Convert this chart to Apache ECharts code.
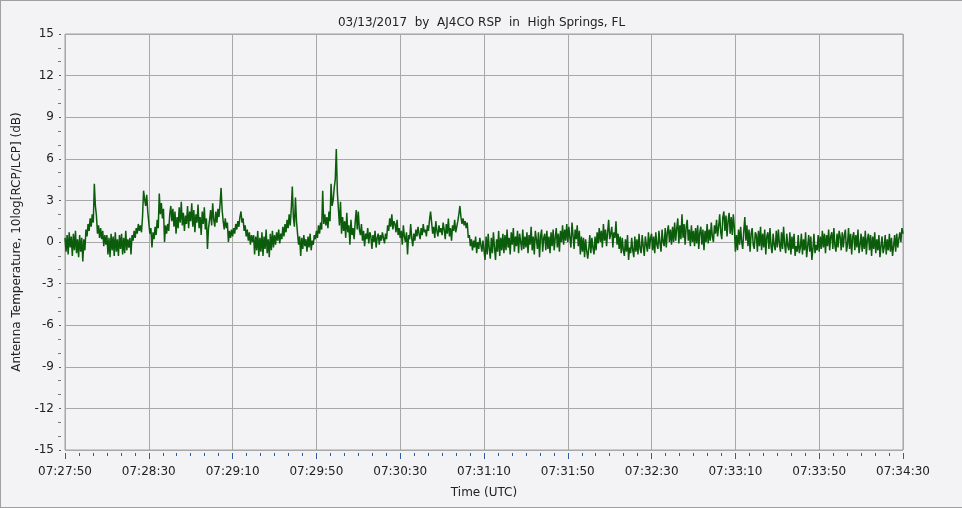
<!DOCTYPE html>
<html>
<head>
<meta charset="utf-8">
<script src="https://cdn.jsdelivr.net/npm/echarts@6/dist/echarts.min.js"></script>
<style>
html,body{margin:0;padding:0;background:#f3f3f5;}
#chart{width:962px;height:508px;box-sizing:border-box;border:1px solid #a0a0a0;border-right:none;}
</style>
</head>
<body>
<div id="chart"></div>
<script>
const titleText = '03/13/2017  by  AJ4CO RSP  in  High Springs, FL';
const yName = 'Antenna Temperature, 10log[RCP/LCP] (dB)';
const xName = 'Time (UTC)';
const timeLabels = ['07:27:50','07:28:30','07:29:10','07:29:50','07:30:30','07:31:10','07:31:50','07:32:30','07:33:10','07:33:50','07:34:30'];
const sampleStep = 0.5; // seconds between samples
const values = [
0.3,-0.7,0.5,-0.9,0.7,-0.4,0.4,-1.0,0.6,-0.6,0.8,-0.8,0.2,-1.1,0.5,-0.7,0.3,-1.4,0.2,-0.6,
0.9,0.4,1.3,0.8,1.7,1.1,2.0,1.4,4.2,2.6,1.9,0.6,1.2,0.3,1.0,0.2,0.8,-0.3,0.5,-0.2,
0.5,-0.9,0.3,-1.1,0.6,-0.6,0.4,-1.0,0.7,-0.7,0.2,-1.0,0.5,-0.5,0.6,-0.9,0.3,-0.8,0.8,-0.6,
0.2,-0.4,0.3,-0.9,0.5,0.1,0.8,0.3,1.0,0.6,1.3,0.8,1.2,0.7,1.8,3.7,3.1,2.6,3.4,2.2,
1.4,0.6,1.0,-0.4,0.7,0.2,1.1,0.5,1.6,1.0,3.5,2.0,2.8,1.7,2.4,0.0,1.2,0.6,1.3,0.8,
2.0,2.6,1.5,2.4,1.1,2.2,0.6,1.8,1.0,2.5,1.4,2.9,1.2,2.1,0.8,1.9,1.3,2.6,1.0,2.2,
1.5,2.8,1.1,2.3,0.7,2.0,1.4,2.7,1.0,1.8,0.5,2.2,1.3,2.5,0.9,1.7,-0.5,1.0,1.6,2.3,
1.2,2.8,1.6,1.1,2.2,1.4,2.4,1.8,2.7,3.9,2.3,1.5,0.9,1.7,1.0,1.4,0.0,0.8,0.3,0.9,
0.4,1.0,0.6,1.3,0.9,1.5,1.1,1.8,2.2,1.4,1.7,0.8,1.2,0.4,0.9,0.1,0.7,-0.2,0.5,0.0,
0.5,-0.9,0.4,-0.6,0.8,-1.0,0.3,-0.7,0.7,-1.0,0.4,-0.5,0.9,-0.8,0.2,-1.1,0.6,-0.6,0.8,-0.4,
0.5,-0.2,0.7,0.1,0.9,-0.1,0.6,0.2,1.1,0.4,1.3,0.7,1.6,1.0,2.0,1.2,2.4,4.0,1.8,1.1,
3.2,1.5,0.6,-0.2,0.4,-1.0,0.3,-0.5,0.5,-0.3,0.2,-0.7,0.4,-0.4,0.6,-0.6,0.1,-0.2,0.5,0.2,
0.8,0.3,1.2,0.6,1.4,0.9,3.7,1.3,2.0,1.2,1.8,1.0,2.2,1.5,4.2,2.6,3.0,3.9,4.5,6.7,
3.6,2.4,1.2,2.9,0.6,1.8,0.8,1.5,0.3,2.1,0.7,1.2,-0.2,1.6,0.5,1.0,0.2,1.4,2.3,0.9,
2.2,0.9,0.5,1.3,0.1,0.8,-0.3,0.6,0.2,1.0,-0.1,0.7,0.4,-0.5,0.5,0.0,0.8,-0.4,0.3,0.6,
-0.2,0.5,0.1,0.7,0.3,-0.1,0.6,0.2,1.2,0.8,1.7,1.1,2.0,0.9,1.5,1.3,0.7,1.6,0.5,1.0,
0.3,0.8,-0.2,1.2,0.4,0.0,0.7,-0.9,0.5,0.2,1.3,0.3,-0.3,0.6,0.1,0.9,0.4,1.1,0.6,0.2,
1.0,0.5,1.3,0.7,0.9,0.4,1.2,0.8,1.6,2.2,1.4,0.6,1.1,0.3,1.5,0.8,0.4,1.2,0.7,1.0,
0.5,1.4,0.9,0.2,1.3,0.6,1.7,0.4,1.0,0.1,1.2,0.8,1.6,0.7,1.1,1.5,2.0,2.6,1.8,1.3,
1.7,1.2,1.5,1.0,1.4,0.3,0.5,-0.3,0.2,-0.6,0.1,-0.4,0.4,-0.8,0.0,-0.5,0.3,-0.2,-0.7,0.1,
-0.6,-1.3,0.4,-0.9,0.6,-0.5,-1.2,0.3,-0.8,0.7,-0.4,-1.3,0.2,-0.7,0.8,-1.0,0.3,-0.6,0.6,-0.8,
0.5,-0.6,0.9,-0.4,0.3,-0.9,0.7,-0.2,1.0,-0.7,0.4,-0.3,0.8,-0.8,0.6,0.0,-0.6,0.9,-0.5,0.4,
-0.4,0.7,-0.8,0.5,-0.2,1.1,-0.6,0.4,-0.9,0.8,0.2,-0.5,0.7,-1.1,0.4,0.9,-0.7,0.3,0.6,-0.6,
0.8,-0.5,0.4,-0.8,0.7,-0.3,0.9,-0.6,0.3,1.0,-0.4,0.6,-0.7,0.8,0.0,1.2,-0.2,0.9,0.1,1.3,
0.0,1.1,0.3,-0.4,1.4,0.5,-0.5,0.9,0.2,1.2,-0.3,0.8,-0.9,0.4,-0.7,0.3,-1.1,0.2,-0.6,-1.2,
-0.5,0.5,-0.8,0.3,-0.4,-0.9,0.4,-0.6,0.7,-0.1,1.0,0.0,0.8,-0.4,1.3,0.1,0.9,-0.3,0.7,1.6,
0.2,0.6,1.1,-0.4,0.7,0.3,1.5,-0.2,0.6,-0.5,0.4,-0.8,0.3,-0.6,-1.0,0.2,-0.7,0.5,-1.3,-0.4,
-0.8,0.3,-0.6,-1.1,0.4,-0.7,0.2,-0.9,0.6,-0.5,-0.8,0.5,-0.3,-1.0,0.4,-0.2,-0.7,0.7,-0.5,0.3,
0.6,-0.6,0.4,-0.8,0.7,-0.2,-0.5,0.8,-0.1,-0.7,0.9,0.0,-0.3,1.0,-0.4,0.7,1.2,0.0,0.9,-0.2,
1.1,0.0,1.4,0.1,1.0,1.7,-0.1,1.2,0.2,2.0,0.3,1.3,-0.2,1.1,1.6,0.1,0.9,-0.3,1.2,0.0,
0.8,-0.3,1.0,-0.1,1.2,-0.5,0.7,1.1,-0.2,0.9,-0.6,0.8,0.0,1.3,-0.1,0.9,0.1,1.4,0.4,0.0,
1.2,0.6,1.6,0.4,1.1,2.0,0.7,0.2,1.8,2.2,0.8,1.9,0.4,1.5,2.1,0.6,1.8,0.5,2.0,1.0,
-0.7,0.5,-0.6,0.9,-0.2,1.1,0.0,-0.5,0.8,1.8,0.1,1.2,-0.3,0.9,-0.7,0.6,1.0,-0.2,-0.5,0.7,
0.5,-0.7,0.8,-0.3,1.1,-0.6,0.6,-0.4,0.9,-0.9,0.4,0.7,-0.5,1.0,-0.3,-0.8,0.6,-0.2,-0.6,0.8,
-0.4,0.9,-0.1,-0.7,0.7,-0.5,1.1,-0.2,-0.8,0.6,-0.3,-0.6,0.7,-0.9,0.4,-0.5,0.6,-1.0,-0.3,-0.7,
0.5,-0.8,-0.4,0.6,-0.9,0.2,-0.6,0.7,-1.1,-0.3,0.5,-0.7,0.4,-1.3,-0.5,0.6,-0.8,-0.2,-0.6,0.5,
-0.7,0.4,-0.5,0.8,-0.4,0.6,-0.8,0.5,-0.3,0.9,-0.6,0.4,0.7,-0.5,1.0,-0.3,-0.7,0.6,-0.4,0.8,
0.4,-0.6,0.7,-0.4,0.5,0.9,-0.7,-0.2,1.0,-0.5,0.6,-0.9,0.4,0.7,-0.6,0.5,-0.4,0.9,-0.8,-0.2,
0.6,-0.7,0.4,-0.5,0.8,-0.9,0.2,0.6,-0.6,0.5,-1.0,0.4,-0.5,0.7,-0.8,0.2,-0.6,0.5,-1.1,-0.3,
0.4,-0.8,-0.4,0.5,-0.9,0.2,-0.6,0.6,-0.7,0.3,-1.0,-0.3,0.5,-0.7,0.6,-0.4,0.2,0.7,0.0,1.0,
0.6
];
const xMin = 0, xMax = 400, xStep = 40;
const yMin = -15, yMax = 15, yStep = 3;

const seriesData = values.map((v, i) => [i * sampleStep, v]);
const font = 'DejaVu Sans';
const chart = echarts.init(document.getElementById('chart'), null, {renderer: 'canvas'});
chart.setOption({
  backgroundColor: '#f3f3f5',
  animation: false,
  title: {
    text: titleText, left: 'center', top: 11,
    textStyle: {fontFamily: font, fontSize: 12, fontWeight: 'normal', color: '#222'}
  },
  grid: {left: 64, right: 59, top: 33, bottom: 57, show: true, borderColor: '#a0a0a0', borderWidth: 1, backgroundColor: 'transparent'},
  xAxis: {
    type: 'value', min: xMin, max: xMax, interval: xStep, offset: 3, position: 'bottom',
    axisLine: {show: false, onZero: false},
    axisTick: {show: true, length: 6, lineStyle: {color: '#2a5caa', width: 1}},
    minorTick: {show: true, splitNumber: 6, length: 3, lineStyle: {color: '#2a5caa', width: 1}},
    splitLine: {show: true, lineStyle: {color: '#a8a8a8', width: 1}},
    axisLabel: {margin: 13, fontFamily: font, fontSize: 12, color: '#222', formatter: v => timeLabels[Math.round(v / xStep)]},
    name: xName, nameLocation: 'middle', nameGap: 34,
    nameTextStyle: {fontFamily: font, fontSize: 12, color: '#222'}
  },
  yAxis: {
    type: 'value', min: yMin, max: yMax, interval: yStep, offset: 4, position: 'left',
    axisLine: {show: false, onZero: false},
    axisTick: {show: true, length: 2, lineStyle: {color: '#555', width: 1}},
    minorTick: {show: true, splitNumber: 3, length: 3, lineStyle: {color: '#777', width: 1}},
    splitLine: {show: true, lineStyle: {color: '#a8a8a8', width: 1}},
    axisLabel: {margin: 7, fontFamily: font, fontSize: 12, color: '#222'},
    name: yName, nameLocation: 'middle', nameGap: 38, nameRotate: 90,
    nameTextStyle: {fontFamily: font, fontSize: 12, color: '#222'}
  },
  series: [{
    type: 'line', data: seriesData, showSymbol: false, symbol: 'none',
    lineStyle: {color: '#0b5c0b', width: 1.5}, z: 5
  }]
});
</script>
</body>
</html>
